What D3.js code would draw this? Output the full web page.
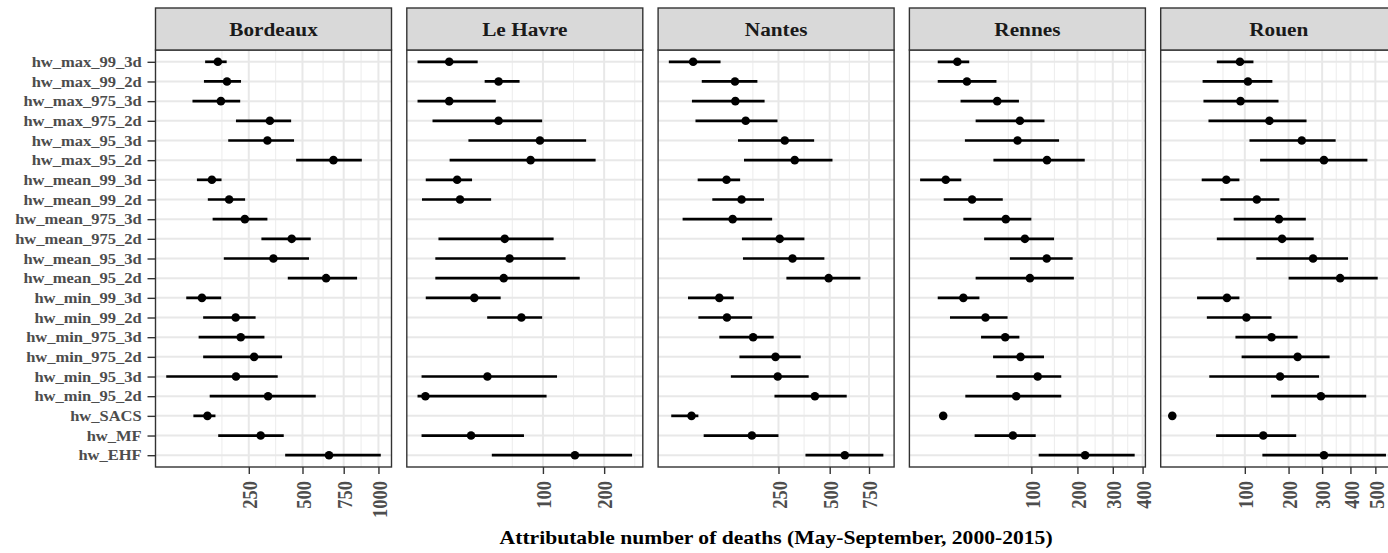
<!DOCTYPE html>
<html>
<head>
<meta charset="utf-8">
<script src="https://cdn.jsdelivr.net/npm/d3@7"></script>
<style>
body { margin: 0; background: #fff; }
text { font-family: "Liberation Serif", "Times New Roman", serif; font-weight: bold; }
</style>
</head>
<body>
<script>
// heatwave indicators, top to bottom
let indicators = ["hw_max_99_3d", "hw_max_99_2d", "hw_max_975_3d", "hw_max_975_2d", "hw_max_95_3d",
  "hw_max_95_2d", "hw_mean_99_3d", "hw_mean_99_2d", "hw_mean_975_3d", "hw_mean_975_2d",
  "hw_mean_95_3d", "hw_mean_95_2d", "hw_min_99_3d", "hw_min_99_2d", "hw_min_975_3d",
  "hw_min_975_2d", "hw_min_95_3d", "hw_min_95_2d", "hw_SACS", "hw_MF", "hw_EHF"];

let cities = ["Bordeaux", "Le Havre", "Nantes", "Rennes", "Rouen"];

// attributable deaths: estimate, lower and upper bound (null = not available)
let bordeauxEst = [145, 173, 154, 338, 327, 683, 128, 180, 235, 443, 354, 637, 102, 202, 220, 271, 203, 330, 116, 298, 655];
let bordeauxLo  = [110, 107, 80, 203, 177, 466, 90, 117, 130, 301, 163, 423, 67, 105, 94, 105, 33, 122, 82, 146, 410];
let bordeauxHi  = [172, 221, 218, 440, 455, 876, 156, 236, 327, 546, 536, 842, 155, 277, 314, 395, 374, 575, 138, 403, 1018];

let leHavreEst = [13.4, 49, 13.4, 49, 96, 84, 17.6, 19.3, null, 55, 60, 54, 28.7, 73, null, null, 39, 4.2, null, 26.4, 148];
let leHavreLo  = [2.3, 36.7, 2.3, 6.4, 24.6, 13.6, 4.3, 3.3, null, 8.6, 7.4, 7.4, 4.3, 38.8, null, null, 3.2, 2.3, null, 3.2, 42.8];
let leHavreHi  = [31.2, 70.9, 46.4, 99, 167, 184, 27.1, 42.2, null, 115, 133, 156, 51, 99, null, null, 120, 105, null, 76, 257];

let nantesEst = [24, 105, 106, 135, 276, 320, 84, 123, 99, 255, 310, 494, 68, 85, 158, 238, 247, 419, 22, 154, 590];
let nantesLo  = [3.2, 36, 22.5, 27, 113, 130, 30, 54, 12.6, 124, 127, 283, 18, 31, 68, 117, 94.5, 234, 4.4, 39, 371];
let nantesHi  = [70.6, 172, 197, 246, 415, 516, 119, 195, 225, 366, 470, 691, 102, 155, 231, 348, 387, 602, 31, 250, 854];

let rennesEst = [11.2, 17.7, 48, 80.5, 76.7, 130, 5.3, 21.8, 59.3, 88.7, 129.5, 97.4, 15.1, 34.5, 58.5, 81.5, 111.7, 74.6, 4.3, 69.6, 220];
let rennesLo  = [2.5, 2.5, 13.2, 24.9, 16.2, 43.4, 0, 4.5, 15.1, 33.1, 65.1, 24.9, 2.5, 7.2, 30, 43, 46.8, 16.5, 3.7, 24, 113.6];
let rennesHi  = [19.5, 47.1, 78.9, 125, 156, 219, 13.7, 55.2, 100, 145, 188, 191, 28.4, 61.8, 79.6, 124, 161, 161, 5, 108, 372];

let rouenEst = [91, 106, 92, 152, 237, 306, 68, 124, 175, 183, 271, 362, 69, 103, 157, 225, 178, 296, 9.8, 138, 306];
let rouenLo  = [54, 36, 37, 43, 109, 131, 35, 59, 80, 54, 123, 200, 30, 41, 83, 94, 44, 156, 9.3, 53, 136];
let rouenHi  = [117, 159, 174, 251, 346, 467, 90, 176, 249, 273, 391, 510, 90, 157, 225, 325, 290, 462, 10.3, 221, 546];

// x tick labels of each panel
let bordeauxTicks = [250, 500, 750, 1000];
let leHavreTicks = [100, 200];
let nantesTicks = [250, 500, 750];
let rennesTicks = [100, 200, 300, 400];
let rouenTicks = [100, 200, 300, 400, 500];

let panels = [
  {est: bordeauxEst, lo: bordeauxLo, hi: bordeauxHi, ticks: bordeauxTicks},
  {est: leHavreEst, lo: leHavreLo, hi: leHavreHi, ticks: leHavreTicks},
  {est: nantesEst, lo: nantesLo, hi: nantesHi, ticks: nantesTicks},
  {est: rennesEst, lo: rennesLo, hi: rennesHi, ticks: rennesTicks},
  {est: rouenEst, lo: rouenLo, hi: rouenHi, ticks: rouenTicks}
];

let width = 1388, height = 553;
let left = 155.5, panelW = 236, gap = 15.3;
let stripTop = 8, panelTop = 50, panelBottom = 467;
let sx = 1.18; // the picture's text is a bit wider than tall

let svg = d3.select("body").append("svg")
    .attr("width", width)
    .attr("height", height);

let yScale = d3.scalePoint()
    .domain(indicators)
    .range([panelTop, panelBottom])
    .padding(0.6);

let sgnSq = t => t < 0 ? -t * t : t * t;

cities.forEach(function(city, i) {
  let p = panels[i];
  let x0 = left + i * (panelW + gap);
  let rows = indicators.map((name, j) => ({name: name, est: p.est[j], lo: p.lo[j], hi: p.hi[j]}))
      .filter(d => d.est != null);

  // sqrt scale, expanded by 5% in transformed space like ggplot
  let vals = rows.map(d => Math.sqrt(d.lo)).concat(rows.map(d => Math.sqrt(d.hi)));
  let a = d3.min(vals), b = d3.max(vals), pad = 0.05 * (b - a);
  let lim = [a - pad, b + pad];
  let xScale = d3.scaleSqrt()
      .domain([sgnSq(lim[0]), sgnSq(lim[1])])
      .range([x0, x0 + panelW]);

  // minor breaks halfway between major breaks (transformed space)
  let tb = p.ticks.map(Math.sqrt);
  let bd = tb[1] - tb[0];
  if (lim[0] < tb[0]) tb.unshift(tb[0] - bd);
  if (lim[1] > tb[tb.length - 1]) tb.push(tb[tb.length - 1] + bd);
  let minor = [];
  for (let k = 0; k < tb.length - 1; k++) minor.push((tb[k] + tb[k + 1]) / 2);
  minor = minor.filter(t => t > lim[0] && t < lim[1]).map(sgnSq);

  let g = svg.append("g");

  g.append("rect")
      .attr("x", x0).attr("y", panelTop)
      .attr("width", panelW).attr("height", panelBottom - panelTop)
      .attr("fill", "#fff");

  g.selectAll(".minor").data(minor).enter().append("line")
      .attr("x1", d => xScale(d)).attr("x2", d => xScale(d))
      .attr("y1", panelTop).attr("y2", panelBottom)
      .attr("stroke", "#EEEEEE").attr("stroke-width", 1.1);

  g.selectAll(".vmajor").data(p.ticks).enter().append("line")
      .attr("x1", d => xScale(d)).attr("x2", d => xScale(d))
      .attr("y1", panelTop).attr("y2", panelBottom)
      .attr("stroke", "#E8E8E8").attr("stroke-width", 2);

  g.selectAll(".hmajor").data(indicators).enter().append("line")
      .attr("x1", x0).attr("x2", x0 + panelW)
      .attr("y1", d => yScale(d)).attr("y2", d => yScale(d))
      .attr("stroke", "#E8E8E8").attr("stroke-width", 2);

  // error bars
  g.selectAll(".bar").data(rows).enter().append("line")
      .attr("x1", d => xScale(d.lo)).attr("x2", d => xScale(d.hi))
      .attr("y1", d => yScale(d.name)).attr("y2", d => yScale(d.name))
      .attr("stroke", "#000").attr("stroke-width", 2.7);

  // point estimates
  g.selectAll(".pt").data(rows).enter().append("circle")
      .attr("cx", d => xScale(d.est))
      .attr("cy", d => yScale(d.name))
      .attr("r", 4.3)
      .attr("fill", "#000");

  g.append("rect")
      .attr("x", x0).attr("y", panelTop)
      .attr("width", panelW).attr("height", panelBottom - panelTop)
      .attr("fill", "none").attr("stroke", "#333").attr("stroke-width", 1.4);

  // strip
  g.append("rect")
      .attr("x", x0).attr("y", stripTop)
      .attr("width", panelW).attr("height", panelTop - stripTop)
      .attr("fill", "#D9D9D9").attr("stroke", "#333").attr("stroke-width", 1.4);
  g.append("text")
      .attr("transform", "translate(" + (x0 + panelW / 2) + ",35.5) scale(1.12,1)")
      .attr("text-anchor", "middle")
      .attr("font-size", 19)
      .attr("fill", "#1A1A1A")
      .text(city);

  // x axis
  let ax = svg.append("g")
      .attr("transform", "translate(0," + panelBottom + ")")
      .call(d3.axisBottom(xScale).tickValues(p.ticks).tickSize(7).tickFormat(d3.format("d")));
  ax.select(".domain").remove();
  ax.selectAll("line").attr("stroke", "#333").attr("stroke-width", 1.4);
  ax.selectAll("text")
      .attr("x", null).attr("y", null).attr("dy", "0.35em")
      .attr("transform", "translate(0,14) scale(" + sx + ",1) rotate(-90)")
      .attr("text-anchor", "end")
      .attr("font-size", 18.5)
      .attr("fill", "#4D4D4D");
});

// y axis on the first panel
let ay = svg.append("g")
    .attr("transform", "translate(" + left + ",0)")
    .call(d3.axisLeft(yScale).tickSize(8));
ay.select(".domain").remove();
ay.selectAll("line").attr("stroke", "#333").attr("stroke-width", 1.4);
ay.selectAll("text")
    .attr("x", null).attr("dy", "0.33em")
    .attr("transform", "translate(-13.8,0) scale(" + sx + ",1)")
    .attr("font-size", 14)
    .attr("fill", "#4D4D4D");

// x axis title
let panelsRight = left + 5 * panelW + 4 * gap;
svg.append("text")
    .attr("transform", "translate(" + ((left + panelsRight) / 2) + ",544) scale(1.2,1)")
    .attr("text-anchor", "middle")
    .attr("font-size", 18)
    .attr("fill", "#000")
    .text("Attributable number of deaths (May-September, 2000-2015)");
</script>
</body>
</html>
